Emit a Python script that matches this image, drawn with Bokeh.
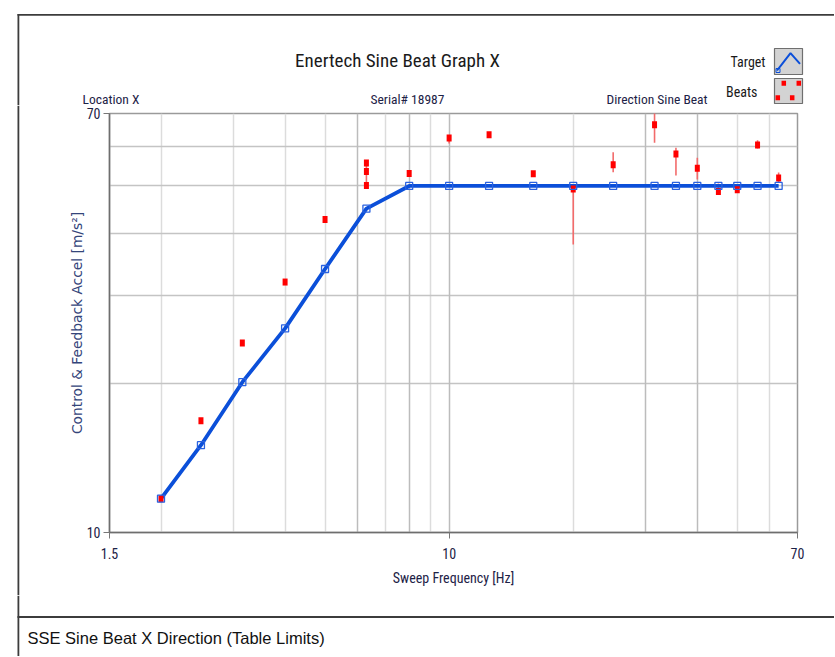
from bokeh.plotting import figure
from bokeh.models import (FixedTicker, CustomJSTickFormatter, Grid, Label, Range1d)
from bokeh.layouts import column, row
from bokeh.embed import file_html
from bokeh.resources import INLINE

# ---------------- data ----------------
target_freq = [2, 2.5, 3.15, 4, 5, 6.3, 8, 10, 12.5, 16, 20, 25, 31.5, 35.5, 40, 45, 50, 56, 63]
target_accel = [11.7, 15.0, 20.1, 25.8, 34.0, 45.0, 50, 50, 50, 50, 50, 50, 50, 50, 50, 50, 50, 50, 50]

beat_freq = [2, 2.5, 3.15, 4, 5, 6.3, 6.3, 6.3, 8, 10, 12.5, 16, 20, 25, 31.5, 35.5, 40, 45, 50, 56, 63]
beat_accel = [11.7, 16.8, 24.1, 32.0, 42.8, 55.6, 53.5, 50.1, 53.0, 62.5, 63.4, 52.9, 49.3, 55.2,
              66.4, 58.0, 54.3, 48.7, 49.1, 60.5, 51.9]
beat_low = [11.7, 16.8, 24.1, 32.0, 42.8, 53.5, 50.1, 50.1, 52.7, 60.9, 63.0, 52.5, 38.1, 53.3,
            61.1, 52.5, 51.5, 48.2, 48.5, 59.5, 50.8]
beat_high = [11.7, 16.8, 24.1, 32.0, 42.8, 55.6, 53.5, 50.1, 53.3, 62.9, 63.8, 53.3, 50.2, 58.5,
             72.0, 59.7, 57.0, 50.6, 49.6, 61.8, 53.2]

x_ticks = [1.5, 10, 70]
y_ticks = [10, 70]
x_grid_light = [2, 3, 4, 5, 7, 9, 20, 50, 60]
x_grid_dark = [6, 8, 10, 30, 40]
y_grid = [20, 30, 40, 50, 60]

title_text = "Enertech Sine Beat Graph X"
header_texts = ["Location X", "Serial#  18987", "Direction  Sine Beat"]
legend_texts = ["Target", "Beats"]
x_label = "Sweep Frequency [Hz]"
y_label = "Control & Feedback Accel [m/s\u00b2]"
caption_text = "SSE Sine Beat X Direction (Table Limits)"

NARROW = "Roboto Condensed"
NAVY = "#1d2246"
BORDER = "#3c3c3c"
BLUE = "#0b4fd9"
RED = "#ff0000"

# page layout in page pixels (the page has no body margin)
PAGE_L, PAGE_R = 0, 834
HDR_T, HDR_B = 0, 105
CAP_T, CAP_B = 595, 656
STRIP_R = 22
FRAME_L, FRAME_R, FRAME_T, FRAME_B = 109, 797, 113, 532


def blank_fig(x0, x1, y0, y1):
    f = figure(width=x1 - x0, height=y1 - y0,
               x_range=Range1d(x0, x1), y_range=Range1d(y1, y0),
               x_axis_location=None, y_axis_location=None,
               min_border=0, min_border_left=0, min_border_right=0,
               min_border_top=0, min_border_bottom=0,
               toolbar_location=None, output_backend="svg",
               background_fill_color="white", border_fill_color="white",
               frame_align=False)
    f.outline_line_color = None
    f.grid.visible = False
    return f


def add_label(f, x, y, text, font, size, color, align="left"):
    f.add_layout(Label(x=x, y=y, text=text, text_font=font, text_font_size=size,
                       text_color=color, text_align=align, text_baseline="middle"))


# ---------------- header ----------------
hdr = blank_fig(PAGE_L, PAGE_R, HDR_T, HDR_B)
hdr.quad(left=[17], right=[PAGE_R], top=[13.5], bottom=[15.3], fill_color=BORDER, line_color=None)
hdr.quad(left=[17], right=[18.8], top=[13.5], bottom=[HDR_B], fill_color=BORDER, line_color=None)
add_label(hdr, 397, 60, title_text, NARROW, "19px", "#1a1a1a", "center")
add_label(hdr, 82, 98, header_texts[0], NARROW, "13.5px", NAVY)
add_label(hdr, 370, 98, header_texts[1], NARROW, "13.5px", NAVY)
add_label(hdr, 606, 98, header_texts[2], NARROW, "13.5px", NAVY)
add_label(hdr, 765, 61, legend_texts[0], NARROW, "14px", "#1a1a1a", "right")
add_label(hdr, 757, 91, legend_texts[1], NARROW, "14px", "#1a1a1a", "right")
# legend icons
hdr.quad(left=[774, 774], right=[802, 802], top=[48, 78], bottom=[74, 103],
         fill_color="#d3d3d3", line_color="#6f6f6f", line_width=1.2)
hdr.line([776.5, 781.7, 790, 799.5], [70, 63.3, 52.7, 63.3], line_color=BLUE, line_width=2)
hdr.rect(x=[777.5], y=[70], width=4, height=4, fill_alpha=0, line_color=BLUE, line_width=1)
hdr.rect(x=[783.3, 798.3, 777.3, 791.7], y=[82.7, 82.7, 97.3, 97.3], width=4.5, height=5,
         fill_color=RED, line_color=None)

# ---------------- left strip ----------------
strip = blank_fig(PAGE_L, STRIP_R, HDR_B, CAP_T)
strip.quad(left=[17], right=[18.8], top=[HDR_B], bottom=[CAP_T], fill_color=BORDER, line_color=None)

# ---------------- main chart ----------------
p = figure(width=PAGE_R - STRIP_R, height=CAP_T - HDR_B,
           x_axis_type="log", y_axis_type="log",
           x_range=Range1d(1.5, 70), y_range=Range1d(10, 70),
           output_backend="svg", toolbar_location=None,
           min_border_left=FRAME_L - STRIP_R, min_border_right=PAGE_R - FRAME_R,
           min_border_top=FRAME_T - HDR_B, min_border_bottom=CAP_T - FRAME_B,
           background_fill_color="white", border_fill_color="white",
           frame_align=False)
p.outline_line_color = "#9a9a9a"
p.outline_line_width = 1.5

for ax in (p.xaxis[0], p.yaxis[0]):
    ax.minor_tick_line_color = None
    ax.major_tick_out = 6
    ax.major_tick_in = 0
    ax.major_tick_line_color = "#777777"
    ax.axis_line_color = "#6e6e6e"
    ax.axis_line_width = 1.5
    ax.major_label_text_font = NARROW
    ax.major_label_text_font_size = "14px"
    ax.major_label_text_color = NAVY
    ax.formatter = CustomJSTickFormatter(code="return String(tick);")
    ax.axis_label_text_font_style = "normal"

p.xaxis.ticker = FixedTicker(ticks=x_ticks)
p.yaxis.ticker = FixedTicker(ticks=y_ticks)
p.xaxis.major_label_standoff = 9
p.yaxis.major_label_standoff = 3

p.xaxis.axis_label = x_label
p.xaxis.axis_label_text_font = NARROW
p.xaxis.axis_label_text_font_size = "14px"
p.xaxis.axis_label_text_color = NAVY
p.xaxis.axis_label_standoff = 8

p.yaxis.axis_label = y_label
p.yaxis.axis_label_text_font = "DejaVu Sans"
p.yaxis.axis_label_text_font_size = "13.8px"
p.yaxis.axis_label_text_color = "#34457a"
p.yaxis.axis_label_standoff = -1

p.xgrid.ticker = FixedTicker(ticks=x_grid_light)
p.xgrid.grid_line_color = "#dcdcdc"
p.xgrid.grid_line_width = 1.5
p.ygrid.ticker = FixedTicker(ticks=y_grid)
p.ygrid.grid_line_color = "#c4c4c4"
p.ygrid.grid_line_width = 1.5
p.add_layout(Grid(dimension=0, ticker=FixedTicker(ticks=x_grid_dark),
                  grid_line_color="#bcbcbc", grid_line_width=1.5))

p.segment(x0=beat_freq, y0=beat_low, x1=beat_freq, y1=beat_high,
          line_color="#f26b6b", line_width=1.6)
p.line(target_freq, target_accel, line_color=BLUE, line_width=3.8)
p.rect(x=beat_freq, y=beat_accel, width=5, height=7, width_units="screen",
       height_units="screen", fill_color=RED, line_color=None)
p.rect(x=target_freq, y=target_accel, width=7, height=7, width_units="screen",
       height_units="screen", fill_alpha=0, line_color="#2a62e0", line_width=1.3)

# ---------------- caption ----------------
cap = blank_fig(PAGE_L, PAGE_R, CAP_T, CAP_B)
cap.quad(left=[17], right=[18.8], top=[CAP_T], bottom=[CAP_B], fill_color=BORDER, line_color=None)
cap.quad(left=[17], right=[PAGE_R], top=[615.6], bottom=[617.4], fill_color=BORDER, line_color=None)
add_label(cap, 27, 637, caption_text, "Liberation Sans", "16.5px", "#111111")

layout = column(hdr, row(strip, p, spacing=0), cap, spacing=0)
open("out.html", "w").write(file_html(layout, INLINE))
